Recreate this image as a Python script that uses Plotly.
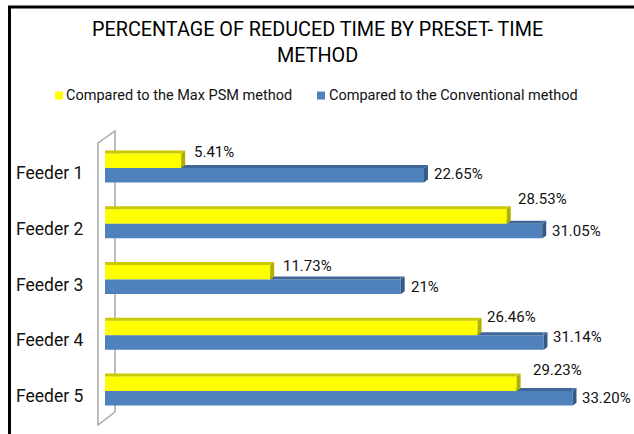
import plotly.graph_objects as go

# ---------------- data ----------------
categories = ["Feeder 1", "Feeder 2", "Feeder 3", "Feeder 4", "Feeder 5"]
max_psm = [5.41, 28.53, 11.73, 26.46, 29.23]
conventional = [22.65, 31.05, 21.00, 31.14, 33.20]
max_psm_labels = ["5.41%", "28.53%", "11.73%", "26.46%", "29.23%"]
conv_labels = ["22.65%", "31.05%", "21%", "31.14%", "33.20%"]
series_names = ["Compared to the Max PSM method", "Compared to the Conventional method"]
title_text = "PERCENTAGE OF REDUCED TIME BY PRESET- TIME<br>METHOD"

# ---------------- style / layout ----------------
FONT = "Roboto"
W, H = 634, 434
L, R, T, B = 105, 8, 139, 15
PW, PH = W - L - R, H - T - B
XMAX = 37
BARGAP = 0.48
BW = (1 - BARGAP) / 2
SLOT = PH / len(categories)
BAR_PX = BW * SLOT
DX, DY = 4, 3

YEL, YEL_TOP, YEL_SIDE = "#FFFF00", "#C9C900", "#B0B000"
BLU, BLU_TOP, BLU_SIDE = "#4F81BD", "#3E6797", "#345A86"
TXT = "#111111"

# label offsets (pixels) for the data labels
yel_xshift = [11, 9, 11, 7.5, 14.5]
yel_yshift = [8.7, 17.7, 6.7, 10.7, 13.7]
blu_xshift = [8, 8, 8, 8, 8]
blu_yshift = [1, 0, 0, 6, 0]


def pxx(px):
    return (px - L) / PW


def pxy(py):
    return (H - B - py) / PH


fig = go.Figure()
fig.add_trace(go.Bar(y=categories, x=max_psm, orientation="h", name=series_names[0],
                     marker=dict(color=YEL, line=dict(width=0)), showlegend=False,
                     hoverinfo="x+y"))
fig.add_trace(go.Bar(y=categories, x=conventional, orientation="h", name=series_names[1],
                     marker=dict(color=BLU, line=dict(width=0)), showlegend=False,
                     hoverinfo="x+y"))

shapes = []
# back wall of the 3D chart
wall = (f"M{pxx(98)},{pxy(143)} L{pxx(115)},{pxy(131)} L{pxx(115)},{pxy(412)} "
        f"L{pxx(98)},{pxy(425)} Z")
shapes.append(dict(type="path", xref="paper", yref="paper", path=wall, layer="below",
                   line=dict(color="#A6A6A6", width=1.5), fillcolor="rgba(0,0,0,0)"))


def faces(x_start, value, y_top, top_col, side_col):
    out = []
    out.append(dict(type="rect", xref="x", yref="y", x0=x_start, x1=value,
                    ysizemode="pixel", yanchor=y_top, y0=0, y1=DY,
                    fillcolor=top_col, line=dict(width=0), layer="above"))
    out.append(dict(type="path", xref="x", yref="y", xsizemode="pixel", ysizemode="pixel",
                    xanchor=value, yanchor=y_top,
                    path=f"M0,0 L{DX},{DY} L0,{DY} Z",
                    fillcolor=top_col, line=dict(width=0), layer="above"))
    out.append(dict(type="path", xref="x", yref="y", xsizemode="pixel", ysizemode="pixel",
                    xanchor=value, yanchor=y_top,
                    path=f"M0,0 L{DX},{DY} L{DX},{DY - BAR_PX} L0,{-BAR_PX} Z",
                    fillcolor=side_col, line=dict(width=0), layer="above"))
    return out


for i in range(len(categories)):
    shapes += faces(max_psm[i], conventional[i], i, BLU_TOP, BLU_SIDE)
for i in range(len(categories)):
    shapes += faces(0, max_psm[i], i - BW, YEL_TOP, YEL_SIDE)

# outer frame
shapes.append(dict(type="rect", xref="paper", yref="paper",
                   x0=pxx(9.5), x1=pxx(645), y0=pxy(7), y1=pxy(450),
                   line=dict(color="black", width=3), fillcolor="rgba(0,0,0,0)"))

# legend swatches
for (x0, col) in [(55, YEL), (317, BLU)]:
    shapes.append(dict(type="rect", xref="paper", yref="paper",
                       x0=pxx(x0), x1=pxx(x0 + 8), y0=pxy(99.5), y1=pxy(91.5),
                       fillcolor=col, line=dict(width=0)))

annotations = []
for (x0, name) in [(64, series_names[0]), (327, series_names[1])]:
    annotations.append(dict(x=pxx(x0), y=pxy(95.5), xref="paper", yref="paper",
                            text=name, showarrow=False, xanchor="left", yanchor="middle",
                            font=dict(family=FONT, size=14.5, color=TXT)))

for i in range(len(categories)):
    annotations.append(dict(x=max_psm[i], y=i - BW / 2, xref="x", yref="y",
                            text=max_psm_labels[i], showarrow=False,
                            xanchor="left", yanchor="middle",
                            xshift=yel_xshift[i], yshift=yel_yshift[i],
                            font=dict(family=FONT, size=15, color=TXT)))
    annotations.append(dict(x=conventional[i], y=i + BW / 2, xref="x", yref="y",
                            text=conv_labels[i], showarrow=False,
                            xanchor="left", yanchor="middle",
                            xshift=blu_xshift[i], yshift=blu_yshift[i],
                            font=dict(family=FONT, size=15, color=TXT)))
    # category labels
    annotations.append(dict(x=pxx(14), y=i, xref="paper", yref="y",
                            text=categories[i], showarrow=False,
                            xanchor="left", yanchor="middle", yshift=-5,
                            font=dict(family=FONT, size=17.5, color=TXT)))

# title: two centred lines
annotations.append(dict(x=pxx(W / 2), y=pxy(42.5), xref="paper", yref="paper",
                        text=title_text, showarrow=False, xanchor="center",
                        yanchor="middle", align="center",
                        font=dict(family=FONT, size=19.8, color="#000000")))

fig.update_layout(
    width=W, height=H,
    margin=dict(l=L, r=R, t=T, b=B),
    paper_bgcolor="white", plot_bgcolor="white",
    barmode="group", bargap=BARGAP, bargroupgap=0,
    xaxis=dict(range=[0, XMAX], visible=False, fixedrange=True),
    yaxis=dict(type="category", categoryorder="array", categoryarray=categories,
               autorange="reversed", showticklabels=False, showgrid=False,
               zeroline=False, showline=False, ticks=""),
    shapes=shapes,
    annotations=annotations,
    showlegend=False,
    font=dict(family=FONT),
)

fig.write_html("out.html", config={"displayModeBar": False},
               post_script="document.body.style.margin='0px';document.body.style.overflow='hidden';")
